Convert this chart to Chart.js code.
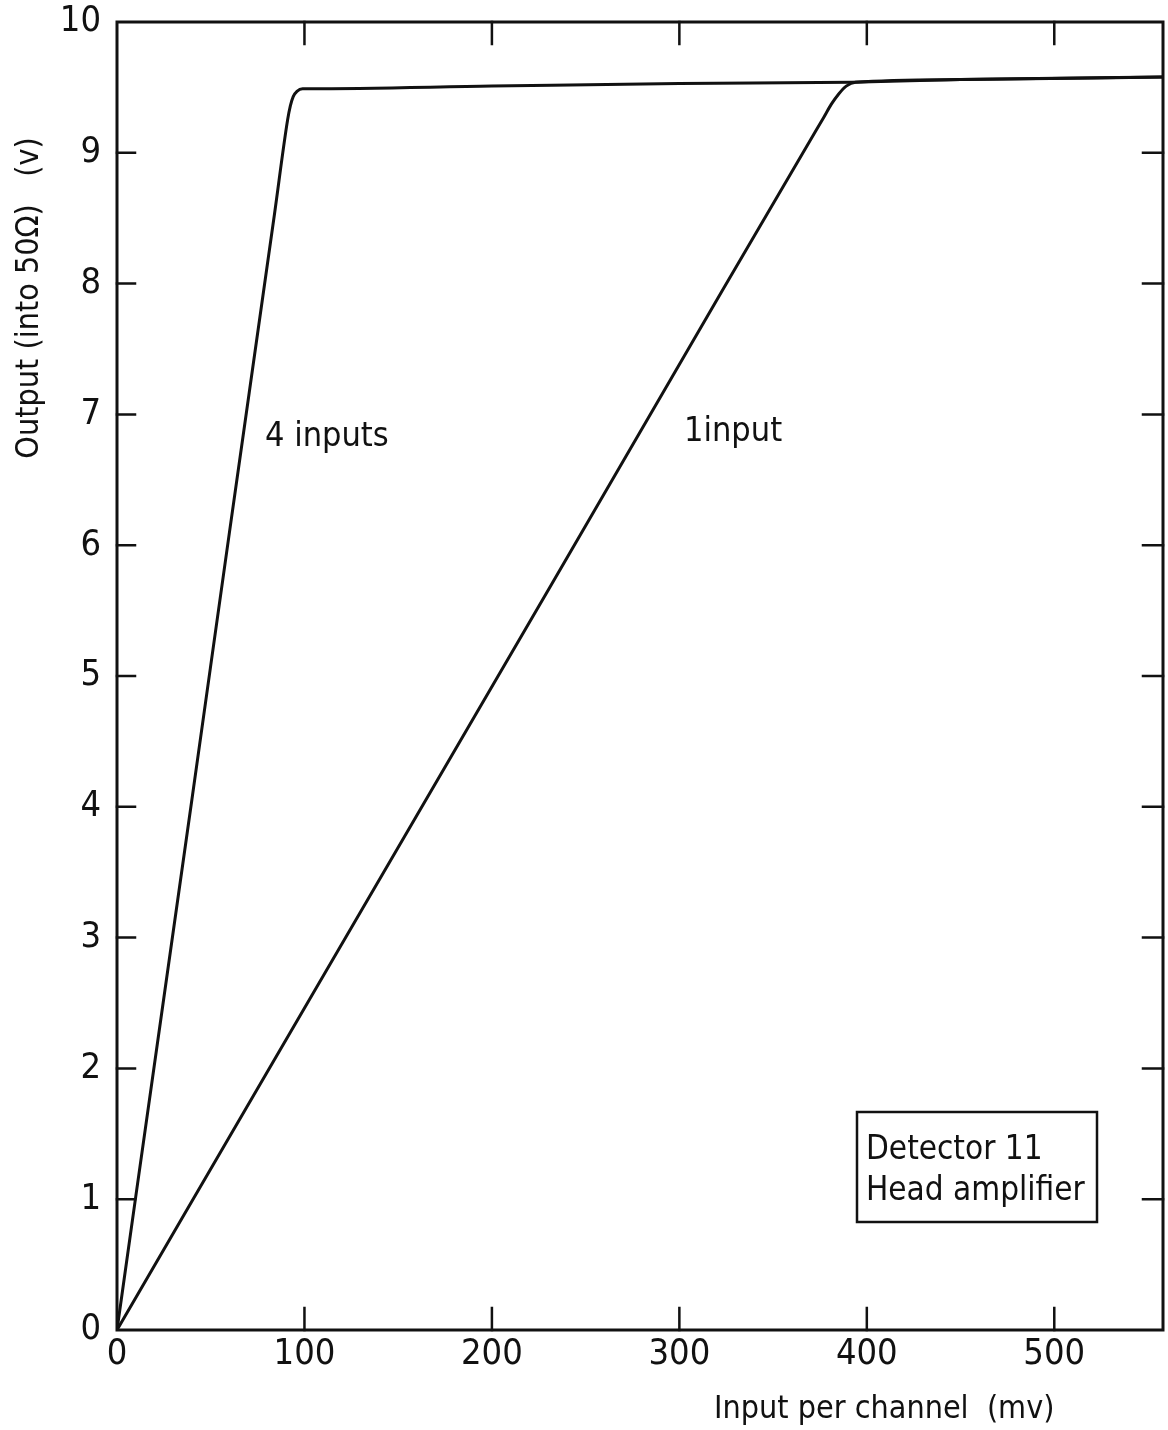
<!DOCTYPE html>
<html>
<head>
<meta charset="utf-8">
<title>Detector 11 head amplifier</title>
<script src="https://cdn.jsdelivr.net/npm/chart.js@4/dist/chart.umd.min.js"></script>
<style>
  html, body { margin: 0; padding: 0; background: #fff; }
  #wrap { width: 1168px; height: 1430px; }
</style>
</head>
<body>
<div id="wrap"><canvas id="amp" width="1168" height="1430"></canvas></div>
<script>
// Output voltage against input per channel
const inputMv4 = [0, 10, 40, 60, 84, 91, 92.5, 94, 96, 99, 102, 200, 300, 392, 450, 558];
const output4  = [0, 1.02, 4.06, 6.1, 8.53, 9.25, 9.36, 9.43, 9.47, 9.49, 9.49, 9.51, 9.53, 9.54, 9.56, 9.58];

const inputMv1 = [0, 104, 231, 323, 370, 377, 381, 385, 389, 394, 450, 558];
const output1  = [0, 2.56, 5.68, 7.95, 9.1, 9.27, 9.37, 9.45, 9.51, 9.54, 9.56, 9.58];

const xTickValues = [100, 200, 300, 400, 500];
const yTickValues = [1, 2, 3, 4, 5, 6, 7, 8, 9];

const FONT = '"Liberation Sans Narrow", "DejaVu Sans Condensed", "Roboto Condensed", "Liberation Sans", sans-serif';
const INK = '#111';

function toPoints(xs, ys) {
    return xs.map((x, i) => ({ x: x, y: ys[i] }));
}

// frame, inward tick marks and the hand-lettered notes
const framePlugin = {
    id: 'framePlugin',
    afterDraw(chart) {
        const ctx = chart.ctx;
        const area = chart.chartArea;
        const xs = chart.scales.x;
        const ys = chart.scales.y;
        ctx.save();
        ctx.strokeStyle = INK;
        ctx.lineCap = 'square';

        ctx.lineWidth = 3;
        ctx.strokeRect(area.left, area.top, area.right - area.left, area.bottom - area.top);

        ctx.lineWidth = 2.5;
        ctx.beginPath();
        xTickValues.forEach(v => {
            const px = xs.getPixelForValue(v);
            ctx.moveTo(px, area.bottom);
            ctx.lineTo(px, area.bottom - 22);
            ctx.moveTo(px, area.top);
            ctx.lineTo(px, area.top + 22);
        });
        yTickValues.forEach(v => {
            const py = ys.getPixelForValue(v);
            ctx.moveTo(area.left, py);
            ctx.lineTo(area.left + 18, py);
            ctx.moveTo(area.right, py);
            ctx.lineTo(area.right - 20, py);
        });
        ctx.stroke();

        ctx.fillStyle = INK;
        ctx.textBaseline = 'middle';

        // curve labels
        ctx.font = '34px ' + FONT;
        ctx.textAlign = 'left';
        ctx.fillText('4 inputs', 265, 437);
        ctx.fillText('1input', 684, 432);

        // note box
        ctx.lineWidth = 2.5;
        ctx.strokeRect(857, 1112, 240, 110);
        ctx.font = '33px ' + FONT;
        ctx.fillText('Detector 11', 866, 1150);
        ctx.fillText('Head amplifier', 866, 1191);

        // axis titles
        ctx.font = '32px ' + FONT;
        ctx.fillText('Input per channel  (mv)', 714, 1410);

        ctx.translate(30, 298);
        ctx.rotate(-Math.PI / 2);
        ctx.textAlign = 'center';
        ctx.fillText('Output (into 50\u03A9)   (v)', 0, 0);
        ctx.restore();
    }
};

new Chart(document.getElementById('amp'), {
    type: 'line',
    data: {
        datasets: [
            {
                label: '4 inputs',
                data: toPoints(inputMv4, output4),
                borderColor: INK,
                borderWidth: 3,
                pointRadius: 0,
                cubicInterpolationMode: 'monotone'
            },
            {
                label: '1 input',
                data: toPoints(inputMv1, output1),
                borderColor: INK,
                borderWidth: 3,
                pointRadius: 0,
                cubicInterpolationMode: 'monotone'
            }
        ]
    },
    options: {
        responsive: false,
        devicePixelRatio: 1,
        animation: false,
        parsing: false,
        layout: { padding: { top: 0, right: 5, left: 0, bottom: 0 } },
        plugins: {
            legend: { display: false },
            tooltip: { enabled: false }
        },
        scales: {
            x: {
                type: 'linear',
                min: 0,
                max: 558,
                border: { display: false },
                grid: { display: false },
                ticks: {
                    stepSize: 100,
                    includeBounds: false,
                    padding: -5,
                    color: INK,
                    font: { family: FONT, size: 36 }
                },
                afterFit: s => { s.height = 100; }
            },
            y: {
                type: 'linear',
                min: 0,
                max: 10,
                border: { display: false },
                grid: { display: false },
                ticks: {
                    stepSize: 1,
                    padding: 8,
                    color: INK,
                    font: { family: FONT, size: 36 }
                },
                afterFit: s => {
                    s.width = 117;
                    s.paddingTop = 22;
                }
            }
        }
    },
    plugins: [framePlugin]
});
</script>
</body>
</html>
